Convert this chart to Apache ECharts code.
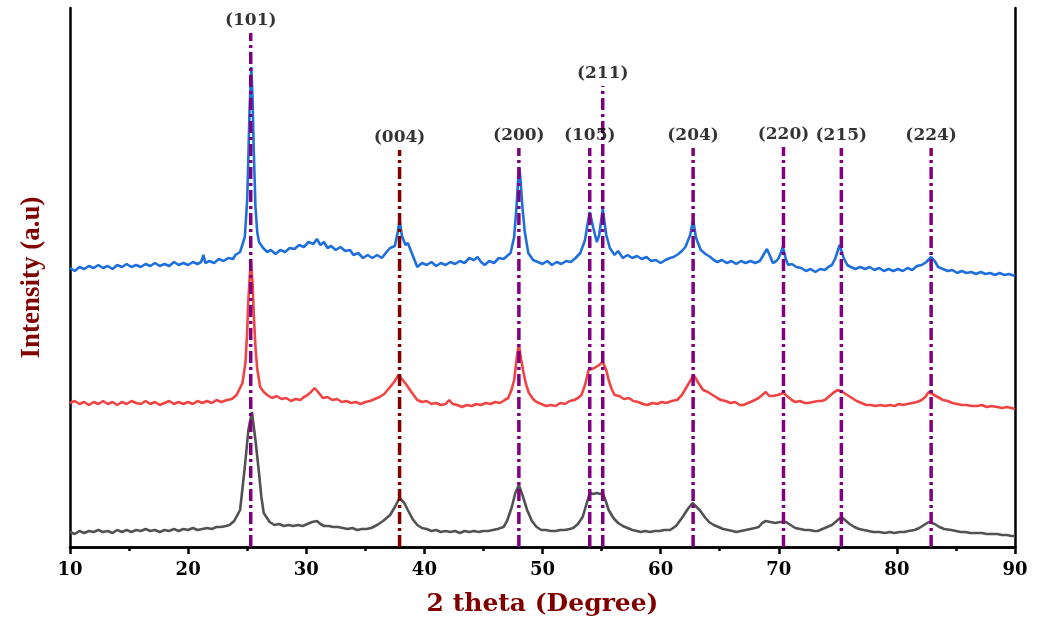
<!DOCTYPE html>
<html><head><meta charset="utf-8">
<script src="https://cdn.jsdelivr.net/npm/echarts@6/dist/echarts.min.js"></script>
<style>html,body{margin:0;padding:0;background:#fff}#c{width:1045px;height:623px}</style>
</head><body><div id="c"></div>
<script>
// 2 theta (deg), intensity (a.u., offset traces)
const blueTrace = [
[10,279],[10.4,276],[10.8,280],[11.2,278],[11.6,281],[12,279],[12.4,282],[12.8,279],[13.2,281],[13.6,278],[14,282],[14.4,280],[14.8,283],[15.2,280],[15.6,282],[16,280],[16.4,283],[16.8,281],[17.2,284],[17.6,281],[18,283],[18.4,281],[18.8,285],[19.2,282],[19.6,284],[20,282],[20.4,285],[20.8,283],[21.1,285],[21.3,292],[21.45,284],[21.8,286],[22.2,284],[22.6,288],[23,286],[23.4,289],[23.8,288],[24,292],[24.4,295],[24.8,310],[25.0,347],[25.1,390],[25.2,437],[25.35,480],[25.45,450],[25.55,400],[25.7,340],[25.85,315],[26.0,305],[26.35,299],[26.7,295],[27,297],[27.4,293],[27.8,297],[28.2,295],[28.6,299],[29,298],[29.4,302],[29.8,300],[30.2,305],[30.6,303],[30.9,308],[31.2,302],[31.5,305],[31.8,299],[32.1,301],[32.5,297],[32.9,300],[33.3,296],[33.7,297],[34,292],[34.4,294],[34.8,289],[35.2,292],[35.6,289],[36,292],[36.4,289],[36.8,295],[37.1,299],[37.5,301],[37.75,315],[37.9,327],[38.1,311],[38.4,302],[38.6,304],[39,292],[39.4,280],[39.8,284],[40.2,282],[40.6,285],[41,281],[41.4,284],[41.8,282],[42.2,285],[42.6,283],[43,286],[43.4,284],[43.8,289],[44.2,287],[44.5,290],[44.8,285],[45.1,282],[45.5,286],[45.9,284],[46.3,289],[46.7,288],[47.0,291],[47.3,294],[47.6,310],[47.8,340],[47.95,370],[48.05,379],[48.15,365],[48.3,340],[48.5,315],[48.8,294],[49.2,287],[49.6,285],[50,283],[50.4,286],[50.8,282],[51.2,285],[51.6,283],[52,286],[52.4,285],[52.8,289],[53.2,294],[53.6,307],[53.8,322],[54.0,335],[54.3,319],[54.6,305],[54.8,312],[55.1,338],[55.4,312],[55.7,299],[56.1,292],[56.4,296],[56.8,289],[57.2,292],[57.6,289],[58,291],[58.4,288],[58.8,290],[59.2,286],[59.6,287],[60,284],[60.4,287],[60.8,289],[61.1,290],[61.5,293],[61.8,296],[62.1,300],[62.5,312],[62.75,327],[63.0,309],[63.4,297],[63.8,293],[64.2,290],[64.5,287],[64.8,285],[65.2,287],[65.6,284],[66,286],[66.4,283],[66.8,286],[67.2,284],[67.6,286],[68,284],[68.4,286],[68.7,292],[69.0,298],[69.3,290],[69.5,284],[69.8,286],[70.0,289],[70.2,295],[70.35,300],[70.6,288],[70.8,282],[71.1,283],[71.5,280],[71.9,279],[72.3,276],[72.7,278],[73.1,275],[73.5,278],[73.9,277],[74.2,280],[74.5,282],[74.8,289],[75.15,302],[75.5,289],[75.8,282],[76.1,280],[76.5,278],[76.9,280],[77.3,278],[77.7,280],[78.1,277],[78.5,279],[78.9,276],[79.3,278],[79.7,276],[80.1,278],[80.5,276],[80.9,279],[81.3,277],[81.7,281],[82.1,282],[82.5,285],[82.9,290],[83.2,286],[83.5,280],[83.9,278],[84.3,276],[84.7,277],[85.1,274],[85.5,276],[85.9,274],[86.3,275],[86.7,273],[87.1,275],[87.5,273],[87.9,274],[88.3,272],[88.7,274],[89.1,272],[89.5,273],[90,271]
];
const redTrace = [
[10,144],[10.4,146],[10.8,143],[11.2,145],[11.6,142],[12,145],[12.4,143],[12.8,146],[13.2,143],[13.6,145],[14,142],[14.4,145],[14.8,143],[15.2,146],[15.6,144],[16,143],[16.4,146],[16.8,143],[17.2,145],[17.6,142],[18,144],[18.4,146],[18.8,143],[19.2,145],[19.6,143],[20,145],[20.4,143],[20.8,146],[21.2,144],[21.6,146],[22,144],[22.4,147],[22.8,145],[23.3,147],[23.7,148],[24.1,152],[24.6,164],[24.85,184],[25.0,215],[25.1,247],[25.3,287],[25.45,265],[25.55,235],[25.7,200],[25.85,178],[26.1,160],[26.4,155],[26.7,152],[27.1,149],[27.5,151],[27.9,148],[28.3,149],[28.7,146],[29.1,148],[29.5,147],[29.8,150],[30.0,151],[30.4,155],[30.7,159],[31.0,155],[31.4,149],[31.8,150],[32.2,147],[32.6,148],[33,145],[33.4,146],[33.8,144],[34.2,145],[34.6,143],[35,145],[35.4,146],[35.8,148],[36.2,150],[36.6,153],[37.1,160],[37.5,166],[37.8,172],[38.1,168],[38.5,162],[38.9,155],[39.4,147],[39.8,145],[40.2,146],[40.6,143],[41,144],[41.4,142],[41.8,143],[42.1,147],[42.4,143],[42.8,142],[43.2,140],[43.6,142],[44,141],[44.4,143],[44.8,142],[45.2,144],[45.6,143],[46,145],[46.4,144],[46.8,147],[47.1,149],[47.4,158],[47.6,167],[47.85,192],[48.0,202],[48.2,187],[48.4,174],[48.6,163],[48.85,154],[49.2,148],[49.5,145],[49.9,143],[50.3,141],[50.7,142],[51.1,141],[51.5,144],[51.9,143],[52.3,146],[52.7,147],[53.0,149],[53.3,152],[53.6,162],[53.9,177],[54.4,179],[54.8,182],[55.1,185],[55.4,177],[55.6,167],[55.85,158],[56.1,152],[56.5,151],[56.9,148],[57.3,149],[57.7,146],[58.1,145],[58.5,143],[58.9,142],[59.3,144],[59.7,143],[60.1,145],[60.5,144],[60.9,146],[61.4,147],[61.8,152],[62.2,160],[62.8,172],[63.2,164],[63.6,157],[64,155],[64.4,152],[64.8,149],[65.1,147],[65.5,146],[65.9,144],[66.3,145],[66.7,142],[67,142],[67.4,144],[67.8,146],[68.3,149],[68.9,155],[69.2,151],[69.5,151],[69.9,152],[70.4,154],[70.8,150],[71.1,147],[71.4,145],[71.8,146],[72.2,144],[72.5,144],[72.9,145],[73.3,146],[73.6,146],[73.9,147],[74.3,151],[74.7,155],[75.0,157],[75.4,155],[75.8,152],[76.2,149],[76.6,146],[77,144],[77.4,142],[77.8,142],[78.2,141],[78.6,142],[79,141],[79.4,142],[79.8,141],[80.2,143],[80.5,142],[80.9,143],[81.3,144],[81.7,145],[82.1,147],[82.4,150],[82.7,155],[83,153],[83.3,151],[83.6,149],[83.9,147],[84.3,146],[84.7,144],[85.1,143],[85.5,142],[85.9,142],[86.3,141],[86.8,141],[87.2,142],[87.6,140],[88,141],[88.5,140],[88.9,139],[89.3,140],[89.7,139],[90,138]
];
const grayTrace = [
[10,15],[10.4,13],[10.8,16],[11.2,14],[11.6,16],[12,15],[12.4,17],[12.8,15],[13.2,16],[13.6,14],[14,17],[14.4,15],[14.8,17],[15.2,15],[15.6,17],[16,16],[16.4,18],[16.8,16],[17.2,17],[17.6,15],[18,17],[18.4,16],[18.8,18],[19.2,16],[19.6,18],[20,17],[20.4,19],[20.8,17],[21.2,18],[21.6,19],[22,18],[22.4,20],[22.8,20],[23.2,21],[23.5,22],[23.9,26],[24.4,37],[24.8,80],[25.1,117],[25.4,135],[25.7,107],[26.0,74],[26.2,50],[26.4,34],[26.9,25],[27.3,22],[27.7,23],[28.1,21],[28.5,22],[28.9,21],[29.3,22],[29.7,21],[30.1,23],[30.5,25],[30.9,26],[31.2,23],[31.5,21],[31.9,21],[32.3,20],[32.7,20],[33.1,19],[33.5,18],[33.9,19],[34.3,17],[34.7,18],[35.1,18],[35.5,19],[36,22],[36.5,26],[37.1,32],[37.5,40],[37.9,49],[38.3,44],[38.6,37],[39,28],[39.4,22],[39.8,19],[40.2,18],[40.6,16],[41,17],[41.4,15],[41.8,16],[42.2,15],[42.6,16],[43,14],[43.4,16],[43.8,15],[44.2,16],[44.6,15],[45,16],[45.4,16],[45.8,17],[46.2,18],[46.7,20],[47.0,26],[47.4,40],[47.7,54],[48.0,62],[48.3,52],[48.7,37],[49.1,26],[49.5,20],[49.9,17],[50.3,17],[50.7,16],[51.1,16],[51.5,17],[51.9,17],[52.3,18],[52.6,19],[53.0,23],[53.4,30],[53.7,42],[54.0,54],[54.3,53],[54.6,54],[54.9,53],[55.1,54],[55.35,46],[55.6,37],[56.0,29],[56.4,24],[56.8,21],[57.2,19],[57.6,17],[58,16],[58.3,15],[58.7,16],[59.1,15],[59.5,16],[59.9,16],[60.3,17],[60.8,17],[61.3,21],[61.8,29],[62.3,38],[62.7,44],[63.3,37],[63.8,29],[64.1,25],[64.5,22],[64.9,20],[65.3,18],[65.7,17],[66.1,16],[66.4,15],[66.8,16],[67.2,17],[67.6,18],[68,19],[68.3,20],[68.6,24],[68.9,26],[69.3,25],[69.7,24],[70.1,25],[70.6,25],[71,22],[71.4,19],[71.8,18],[72.2,17],[72.6,17],[73,16],[73.3,16],[73.7,18],[74.1,20],[74.5,22],[74.9,26],[75.3,30],[75.7,26],[76.0,23],[76.4,20],[76.8,18],[77.2,17],[77.6,16],[78,15],[78.5,15],[79,14],[79.4,15],[79.8,14],[80.2,15],[80.6,15],[81,16],[81.5,17],[81.9,19],[82.3,22],[82.7,25],[83.2,23],[83.6,20],[84,18],[84.6,17],[85,16],[85.4,15],[85.8,15],[86.2,14],[86.8,14],[87.2,14],[87.6,13],[88,13],[88.5,13],[88.9,12],[89.3,12],[89.7,11],[90,11]
];
const peakPositions = [25.3, 37.9, 48.0, 54.0, 55.1, 62.75, 70.4, 75.3, 82.9];
const peakLabels = ['(101)','(004)','(200)','(105)','(211)','(204)','(220)','(215)','(224)'];
const peakTops = [514, 397, 399, 399, 461, 399, 400, 399, 399];
const peakColors = ['#800080','#800000','#800080','#800080','#800080','#800080','#800080','#800080','#800080'];

const serifBold = {fontFamily:'DejaVu Serif', fontWeight:'bold'};
const series = [];
series.push({type:'line', data:grayTrace, showSymbol:false, lineStyle:{color:'#525252', width:2.6}, z:2});
series.push({type:'line', data:redTrace, showSymbol:false, lineStyle:{color:'#F04444', width:2.6}, z:2});
series.push({type:'line', data:blueTrace, showSymbol:false, lineStyle:{color:'#1E6FDC', width:2.6}, z:2});
peakPositions.forEach((p,i)=>{
  series.push({type:'line', data:[[p,0],[p,peakTops[i]]], showSymbol:false, silent:true,
    lineStyle:{color:peakColors[i], width:3.5, type:[12,4,3,4]}, z:5});
});
series.push({type:'scatter', symbolSize:0, z:6,
  data: peakPositions.map((p,i)=>[p, peakTops[i], peakLabels[i]]),
  label:{show:true, position:'top', distance:4, formatter:(d)=>d.value[2], color:'#000',
    textBorderWidth:0, fontSize:17, ...serifBold}});

const chart = echarts.init(document.getElementById('c'));
chart.setOption({
  animation:false,
  backgroundColor:'#fff',
  grid:{left:70, right:30, top:8, bottom:76},
  xAxis:[{
    type:'value', min:10, max:90, interval:10, position:'bottom',
    axisLine:{show:true, lineStyle:{color:'#000', width:2.5}},
    axisTick:{show:true, length:7, lineStyle:{color:'#000', width:2.5}},
    minorTick:{show:true, splitNumber:2, length:4, lineStyle:{color:'#000', width:2.5}},
    axisLabel:{color:'#000', fontSize:18, margin:14, ...serifBold},
    splitLine:{show:false},
    name:'2 theta (Degree)', nameLocation:'middle', nameGap:45,
    nameTextStyle:{color:'#800000', fontSize:25, ...serifBold}
  },{
    type:'value', min:10, max:90, position:'top',
    axisLine:{show:true, lineStyle:{color:'#000', width:2.5}},
    axisTick:{show:false}, axisLabel:{show:false}, splitLine:{show:false}
  }],
  yAxis:[{
    type:'value', min:0, max:539, position:'left',
    axisLine:{show:true, lineStyle:{color:'#000', width:2.5}},
    axisTick:{show:false}, axisLabel:{show:false}, splitLine:{show:false},
    name:'Intensity (a.u)', nameLocation:'middle', nameGap:24, nameRotate:90,
    nameTextStyle:{color:'#800000', fontSize:27, fontFamily:'Liberation Serif', fontWeight:'bold'}
  },{
    type:'value', min:0, max:539, position:'right',
    axisLine:{show:true, lineStyle:{color:'#000', width:2.5}},
    axisTick:{show:false}, axisLabel:{show:false}, splitLine:{show:false}
  }],
  series:series
});
</script></body></html>
